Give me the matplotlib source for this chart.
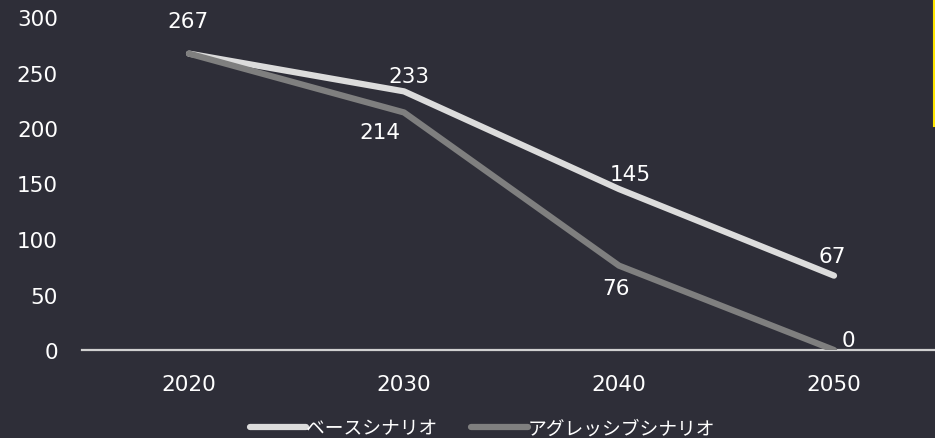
import matplotlib.pyplot as plt
from matplotlib.lines import Line2D

years = ['2020', '2030', '2040', '2050']
base = [267, 233, 145, 67]
aggressive = [267, 214, 76, 0]
series_names = ['ベースシナリオ', 'アグレッシブシナリオ']
yticks = [0, 50, 100, 150, 200, 250, 300]

bg = '#2e2e38'
light = '#dcdcdc'
grey = '#7f7f7f'

fig = plt.figure(figsize=(9.35, 4.39), dpi=100, facecolor=bg)
ax = fig.add_axes([81.5 / 935, 88 / 439, 860 / 935, 333 / 439], facecolor=bg)

x = range(len(years))
ax.plot(x, base, color=light, lw=4.5, solid_capstyle='round', solid_joinstyle='round',
        label=series_names[0], zorder=3)
ax.plot(x, aggressive, color=grey, lw=4.5, solid_capstyle='round', solid_joinstyle='round',
        label=series_names[1], zorder=4)

ax.set_xlim(-0.5, 3.5)
ax.set_ylim(0, 300)
ax.set_xticks(list(x))
ax.set_xticklabels(years)
ax.set_yticks(yticks)

for s in ['top', 'right', 'left']:
    ax.spines[s].set_visible(False)
ax.spines['bottom'].set_color('#d0d0d0')
ax.spines['bottom'].set_linewidth(1.6)
ax.spines['bottom'].set_zorder(2)
ax.tick_params(axis='both', length=0, colors='white', labelsize=15.5)
ax.tick_params(axis='y', pad=17)
ax.tick_params(axis='x', pad=17)

# data labels (offsets in pixels)
base_off = [(-1, 33), (5, 15), (11, 15), (-2, 20)]
aggr_off = [None, (-24, -20), (-3, -22), (14, 10)]
for i, v in enumerate(base):
    dx, dy = base_off[i]
    ax.annotate(str(v), (i, v), xytext=(dx, dy), textcoords='offset pixels',
                ha='center', va='center', color='white', fontsize=15.5)
for i, v in enumerate(aggressive):
    if aggr_off[i] is None:
        continue
    dx, dy = aggr_off[i]
    ax.annotate(str(v), (i, v), xytext=(dx, dy), textcoords='offset pixels',
                ha='center', va='center', color='white', fontsize=15.5)

leg = fig.legend(loc='center', bbox_to_anchor=(0.5 + 15 / 935, 10 / 439), ncol=2, frameon=False,
                 handlelength=3.0, handletextpad=0.0, columnspacing=1.8,
                 prop={'family': ['Noto Sans CJK JP', 'DejaVu Sans'], 'size': 13.5})
for t in leg.get_texts():
    t.set_color('white')

# yellow accent at right edge
fig.add_artist(Line2D([934 / 935, 934 / 935], [1 - 127 / 439, 1], color='#ffe600', lw=1.5))

fig.savefig('out.png', dpi=100, facecolor=bg)
